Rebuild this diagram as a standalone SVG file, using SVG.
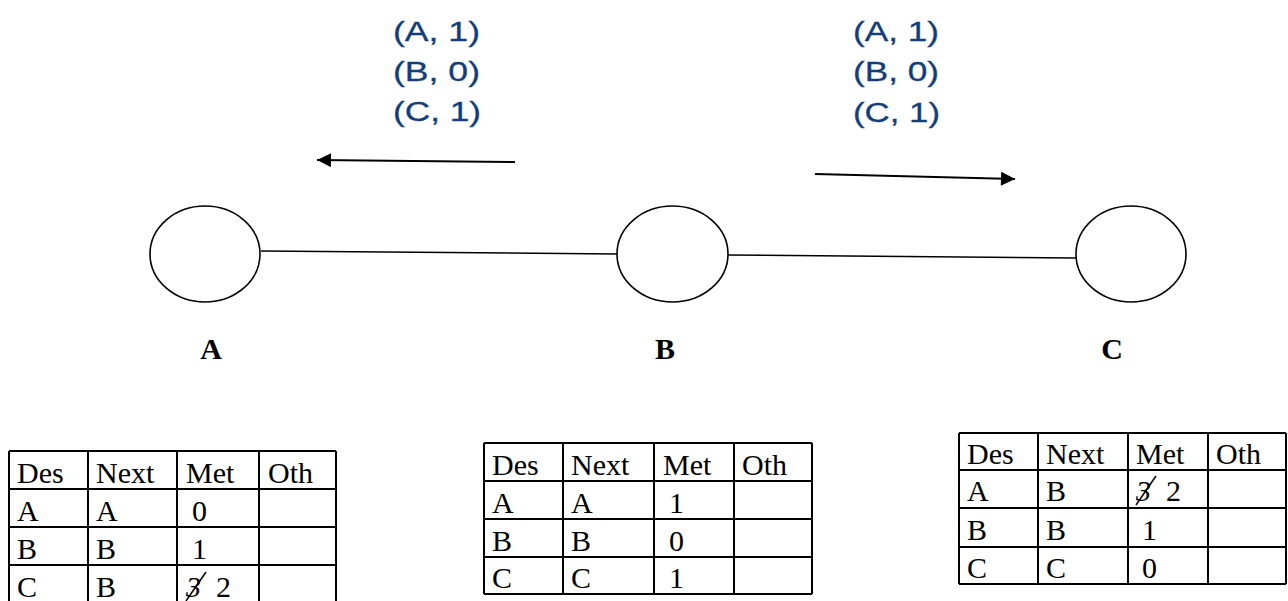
<svg xmlns="http://www.w3.org/2000/svg" width="1288" height="601" viewBox="0 0 1288 601">
<style>
.node{fill:none;stroke:#000;stroke-width:1.6}
.lbl{font-family:"Liberation Serif","Times New Roman",serif;font-weight:bold;font-size:30px;fill:#000;text-anchor:middle}
.edge{stroke:#000;stroke-width:1.5;fill:none}
.arr{stroke:#000;stroke-width:2;fill:none}
.msg{font-family:"Liberation Sans",Arial,sans-serif;font-size:27px;fill:#123d78;stroke:#123d78;stroke-width:0.3}
.grid{stroke:#000;stroke-width:2;fill:none}
.cell{font-family:"Liberation Serif","Times New Roman",serif;font-size:30px;fill:#000}
.it{font-style:italic}
.slash{stroke:#000;stroke-width:1.5}
</style>
<defs>
<marker id="ah" viewBox="0 0 10 10" refX="10" refY="5" markerWidth="8" markerHeight="7" markerUnits="strokeWidth" orient="auto">
<path d="M0,0 L10,5 L0,10 Z" fill="#000"/>
</marker>
</defs>
<rect width="1288" height="601" fill="#fff"/>

<g id="connectors">
<line class="edge" x1="261" y1="251" x2="617" y2="254"/>
<line class="edge" x1="728" y1="255" x2="1076" y2="258"/>
<line class="arr" x1="515" y1="162" x2="317" y2="160" marker-end="url(#ah)"/>
<line class="arr" x1="815" y1="174" x2="1015" y2="179" marker-end="url(#ah)"/>
</g>

<g id="node-A">
<ellipse class="node" cx="205" cy="254" rx="55" ry="48"/>
<text class="lbl" x="211" y="359">A</text>
</g>
<g id="node-B">
<ellipse class="node" cx="672.5" cy="254" rx="55.5" ry="48"/>
<text class="lbl" x="665" y="359">B</text>
</g>
<g id="node-C">
<ellipse class="node" cx="1131" cy="254" rx="55" ry="48"/>
<text class="lbl" x="1112" y="359">C</text>
</g>

<g id="msg-left">
<text class="msg" x="393" y="41" textLength="87" lengthAdjust="spacingAndGlyphs">(A, 1)</text>
<text class="msg" x="393" y="81" textLength="87" lengthAdjust="spacingAndGlyphs">(B, 0)</text>
<text class="msg" x="393" y="121" textLength="88" lengthAdjust="spacingAndGlyphs">(C, 1)</text>
</g>
<g id="msg-right">
<text class="msg" x="853" y="41" textLength="86" lengthAdjust="spacingAndGlyphs">(A, 1)</text>
<text class="msg" x="853" y="81" textLength="86" lengthAdjust="spacingAndGlyphs">(B, 0)</text>
<text class="msg" x="853" y="122" textLength="87" lengthAdjust="spacingAndGlyphs">(C, 1)</text>
</g>

<g id="table-A">
<path class="grid" d="M9,451 H336 M9,489 H336 M9,527 H336 M9,565 H336 M9,603 H336 M9,451 V603 M88,451 V603 M177,451 V603 M259,451 V603 M336,451 V603"/>
<text class="cell" x="17" y="483">Des</text><text class="cell" x="96" y="483">Next</text><text class="cell" x="186" y="483">Met</text><text class="cell" x="268" y="483">Oth</text>
<text class="cell" x="17" y="521">A</text><text class="cell" x="96" y="521">A</text><text class="cell" x="192" y="521">0</text>
<text class="cell" x="17" y="559">B</text><text class="cell" x="96" y="559">B</text><text class="cell" x="192" y="559">1</text>
<text class="cell" x="17" y="597">C</text><text class="cell" x="96" y="597">B</text>
<text class="cell it" x="186" y="597">3</text><line class="slash" x1="186" y1="601" x2="206" y2="572"/><text class="cell" x="216" y="597">2</text>
</g>

<g id="table-B">
<path class="grid" d="M484,443 H812 M484,481 H812 M484,519 H812 M484,557 H812 M484,594 H812 M484,443 V594 M563,443 V594 M654,443 V594 M734,443 V594 M812,443 V594"/>
<text class="cell" x="492" y="475">Des</text><text class="cell" x="571" y="475">Next</text><text class="cell" x="663" y="475">Met</text><text class="cell" x="742" y="475">Oth</text>
<text class="cell" x="492" y="513">A</text><text class="cell" x="571" y="513">A</text><text class="cell" x="669" y="513">1</text>
<text class="cell" x="492" y="551">B</text><text class="cell" x="571" y="551">B</text><text class="cell" x="669" y="551">0</text>
<text class="cell" x="492" y="588">C</text><text class="cell" x="571" y="588">C</text><text class="cell" x="669" y="588">1</text>
</g>

<g id="table-C">
<path class="grid" d="M959,433 H1286 M959,470 H1286 M959,508 H1286 M959,547 H1286 M959,584 H1286 M959,433 V584 M1038,433 V584 M1128,433 V584 M1208,433 V584 M1286,433 V584"/>
<text class="cell" x="967" y="464">Des</text><text class="cell" x="1046" y="464">Next</text><text class="cell" x="1136" y="464">Met</text><text class="cell" x="1216" y="464">Oth</text>
<text class="cell" x="967" y="501">A</text><text class="cell" x="1046" y="501">B</text>
<text class="cell it" x="1136" y="501">3</text><line class="slash" x1="1136" y1="505" x2="1156" y2="476"/><text class="cell" x="1166" y="501">2</text>
<text class="cell" x="967" y="540">B</text><text class="cell" x="1046" y="540">B</text><text class="cell" x="1142" y="540">1</text>
<text class="cell" x="967" y="578">C</text><text class="cell" x="1046" y="578">C</text><text class="cell" x="1142" y="578">0</text>
</g>
</svg>
